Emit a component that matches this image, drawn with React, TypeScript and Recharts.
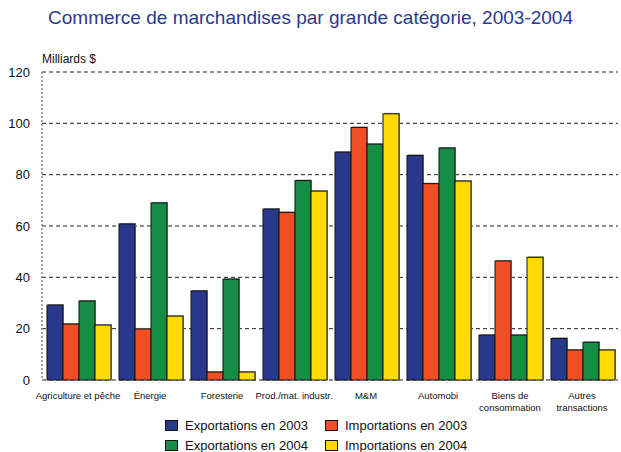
import { Bar, BarChart, CartesianGrid, Legend, XAxis, YAxis } from 'recharts';

const categories = [
  'Agriculture et pêche',
  'Énergie',
  'Foresterie',
  'Prod./mat. industr.',
  'M&M',
  'Automobi',
  'Biens de\nconsommation',
  'Autres\ntransactions',
];

const exports2003 = [29.2, 60.8, 34.7, 66.6, 88.8, 87.5, 17.5, 16.2];
const imports2003 = [21.8, 19.9, 3.1, 65.3, 98.4, 76.5, 46.4, 11.7];
const exports2004 = [30.8, 69.0, 39.3, 77.7, 91.9, 90.4, 17.5, 14.7];
const imports2004 = [21.4, 24.9, 3.1, 73.6, 103.7, 77.5, 47.8, 11.7];

const yTicks = [0, 20, 40, 60, 80, 100, 120];

const SERIES = [
  { key: 'exp03', name: 'Exportations en 2003', color: '#28388A' },
  { key: 'imp03', name: 'Importations en 2003', color: '#F04E24' },
  { key: 'exp04', name: 'Exportations en 2004', color: '#168C47' },
  { key: 'imp04', name: 'Importations en 2004', color: '#FFDA00' },
];

const chartData = categories.map((name, i) => ({
  name,
  exp03: exports2003[i],
  imp03: imports2003[i],
  exp04: exports2004[i],
  imp04: imports2004[i],
}));

const FONT = '"Liberation Sans", Arial, sans-serif';

const CategoryTick = ({ x, y, payload }: any) => {
  const lines = String(payload.value).split('\n');
  return (
    <g transform={`translate(${x},${y})`}>
      <text textAnchor="middle" fontSize={9.5} fill="#111" fontFamily={FONT}>
        {lines.map((line, i) => (
          <tspan key={i} x={0} dy={i === 0 ? 11 : 12}>
            {line}
          </tspan>
        ))}
      </text>
    </g>
  );
};

const ShadowBar = (props: any) => {
  const { x, y, width, height, fill } = props;
  if (!height) return null;
  return (
    <g>
      <rect x={x + 1} y={y - 1} width={width} height={height + 1} fill="#9a9a9a" />
      <rect x={x} y={y} width={width} height={height} fill={fill} stroke="#111" strokeWidth={1} />
    </g>
  );
};

const LegendBox = () => (
  <div
    style={{
      display: 'grid',
      gridTemplateColumns: '160px 160px',
      rowGap: 5,
      marginLeft: 165,
      fontFamily: FONT,
      fontSize: 13,
      color: '#111',
      lineHeight: '15px',
    }}
  >
    {SERIES.map((s) => (
      <div key={s.key} style={{ display: 'flex', alignItems: 'center' }}>
        <span
          style={{
            display: 'inline-block',
            width: 11,
            height: 9,
            background: s.color,
            border: '1px solid #111',
            marginRight: 7,
          }}
        />
        {s.name}
      </div>
    ))}
  </div>
);

export default function App() {
  return (
    <div style={{ position: 'relative', width: 621, height: 452, background: '#fff' }}>
      <style>{'body{margin:0}'}</style>
      <div
        style={{
          position: 'absolute',
          top: 7,
          left: 0,
          width: 621,
          textAlign: 'center',
          fontFamily: FONT,
          fontSize: 19,
          color: '#2B3990',
        }}
      >
        Commerce de marchandises par grande catégorie, 2003-2004
      </div>
      <div
        style={{
          position: 'absolute',
          top: 52,
          left: 42,
          fontFamily: FONT,
          fontSize: 12,
          color: '#111',
        }}
      >
        Milliards $
      </div>
      <BarChart
        width={621}
        height={452}
        data={chartData}
        margin={{ top: 72, right: 3, left: 0, bottom: 32 }}
        barCategoryGap={5}
        barGap={0}
      >
        <CartesianGrid vertical={false} stroke="#222" strokeDasharray="4 3" />
        <XAxis
          dataKey="name"
          axisLine={false}
          tickLine={false}
          interval={0}
          height={40}
          tick={<CategoryTick />}
        />
        <YAxis
          domain={[0, 120]}
          ticks={yTicks}
          width={42}
          tickLine={false}
          tickMargin={6}
          axisLine={{ stroke: '#888', strokeDasharray: '2 2', strokeWidth: 1.5 }}
          tick={{ fontSize: 13, fill: '#111', fontFamily: FONT }}
        />
        {SERIES.map((s) => (
          <Bar
            key={s.key}
            dataKey={s.key}
            name={s.name}
            fill={s.color}
            shape={<ShadowBar />}
            isAnimationActive={false}
          />
        ))}
        <Legend
          layout="vertical"
          verticalAlign="middle"
          align="center"
          content={<LegendBox />}
          wrapperStyle={{ position: 'absolute', left: 0, top: 418, width: 621 }}
        />
      </BarChart>
    </div>
  );
}
